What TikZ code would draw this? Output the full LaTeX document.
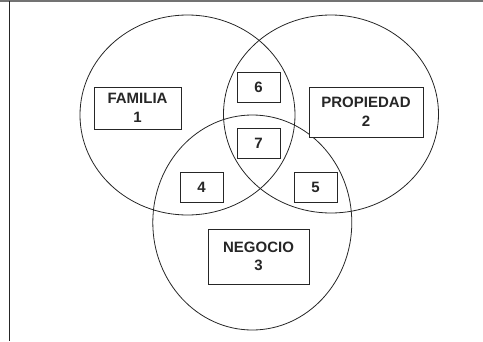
\documentclass[tikz,border=0pt]{standalone}
\usepackage{fontspec}
\setmainfont{Liberation Sans}
\usetikzlibrary{shapes.geometric}
\tikzset{
  ring/.style={draw=black!85, line width=0.8pt},
  label box/.style={draw=black!85, line width=0.8pt, fill=white, inner sep=0pt,
    align=center, font=\fontsize{15}{18.5}\selectfont\bfseries, text=black!85},
  num box/.style={label box, minimum width=43pt, minimum height=30pt}
}
\begin{document}
\begin{tikzpicture}[x=1pt,y=-1pt]
  \useasboundingbox (0,0) rectangle (483,341);
  % outer frame (top and left edges only)
  \draw[black!55, line width=1.2pt] (0,1) -- (483,1);
  \draw[black!85, line width=1pt] (9.5,1) -- (9.5,341);
  % the three sets
  \draw[ring] (187.5,115) ellipse [x radius=107.5, y radius=100];
  \draw[ring] (331,114) ellipse [x radius=107.5, y radius=99];
  \draw[ring] (252.3,222.5) ellipse [x radius=99.5, y radius=107.5];
  % set labels
  \node[label box, minimum width=87pt, minimum height=42pt] (fam) at (137.5,108) {FAMILIA\\1};
  \node[label box, minimum width=114pt, minimum height=50pt] (prop) at (366,112) {PROPIEDAD\\2};
  \node[label box, minimum width=101pt, minimum height=55pt] (neg) at (258.5,256.5) {NEGOCIO\\3};
  % intersections
  \node[num box] (n6) at (258.5,87) {6};
  \node[num box] (n7) at (258.5,143.5) {7};
  \node[num box] (n4) at (201.5,187) {4};
  \node[num box] (n5) at (315.5,187) {5};
\end{tikzpicture}
\end{document}
